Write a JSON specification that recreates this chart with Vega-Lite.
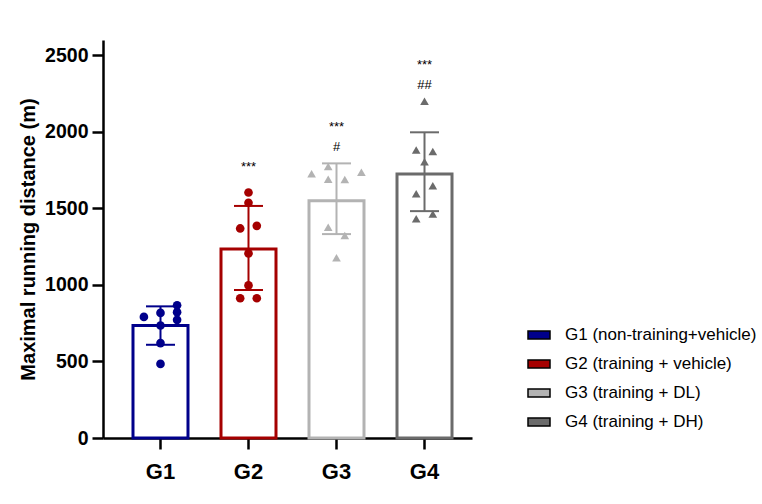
{
  "$schema": "https://vega.github.io/schema/vega-lite/v6.json",
  "autosize": {"type": "none"},
  "width": 369,
  "height": 398,
  "padding": {"left": 103, "top": 40, "right": 290, "bottom": 66},
  "background": "white",
  "config": {
    "view": {"stroke": null},
    "font": "Liberation Sans",
    "axis": {
      "grid": false,
      "domainColor": "black",
      "domainWidth": 2.5,
      "tickColor": "black",
      "tickWidth": 2.5,
      "tickSize": 11,
      "labelFont": "Liberation Sans",
      "labelFontWeight": "bold",
      "labelColor": "black",
      "titleFont": "Liberation Sans",
      "titleFontWeight": "bold",
      "titleFontSize": 20,
      "titleColor": "black"
    },
    "legend": {
      "labelFont": "Liberation Sans",
      "labelFontSize": 17,
      "labelColor": "black",
      "labelLimit": 400
    }
  },
  "datasets": {
    "summary": [
      {"group": "G1", "mean": 735, "lower": 609, "upper": 860},
      {"group": "G2", "mean": 1235, "lower": 967, "upper": 1516},
      {"group": "G3", "mean": 1550, "lower": 1332, "upper": 1794},
      {"group": "G4", "mean": 1725, "lower": 1482, "upper": 1997}
    ],
    "runs": [
      {"group": "G1", "treatment": "G1 (non-training+vehicle)", "lane": -2, "distance": 791},
      {"group": "G1", "treatment": "G1 (non-training+vehicle)", "lane": 0, "distance": 817},
      {"group": "G1", "treatment": "G1 (non-training+vehicle)", "lane": 0, "distance": 735},
      {"group": "G1", "treatment": "G1 (non-training+vehicle)", "lane": 0, "distance": 620},
      {"group": "G1", "treatment": "G1 (non-training+vehicle)", "lane": 0, "distance": 484},
      {"group": "G1", "treatment": "G1 (non-training+vehicle)", "lane": 2, "distance": 867},
      {"group": "G1", "treatment": "G1 (non-training+vehicle)", "lane": 2, "distance": 822},
      {"group": "G1", "treatment": "G1 (non-training+vehicle)", "lane": 2, "distance": 772},
      {"group": "G2", "treatment": "G2 (training + vehicle)", "lane": 0, "distance": 1604},
      {"group": "G2", "treatment": "G2 (training + vehicle)", "lane": 0, "distance": 1537},
      {"group": "G2", "treatment": "G2 (training + vehicle)", "lane": -1, "distance": 1369},
      {"group": "G2", "treatment": "G2 (training + vehicle)", "lane": 1, "distance": 1386},
      {"group": "G2", "treatment": "G2 (training + vehicle)", "lane": 0, "distance": 1206},
      {"group": "G2", "treatment": "G2 (training + vehicle)", "lane": 0, "distance": 997},
      {"group": "G2", "treatment": "G2 (training + vehicle)", "lane": -1, "distance": 913},
      {"group": "G2", "treatment": "G2 (training + vehicle)", "lane": 1, "distance": 913},
      {"group": "G3", "treatment": "G3 (training + DL)", "lane": -3, "distance": 1726},
      {"group": "G3", "treatment": "G3 (training + DL)", "lane": -1, "distance": 1773},
      {"group": "G3", "treatment": "G3 (training + DL)", "lane": 3, "distance": 1736},
      {"group": "G3", "treatment": "G3 (training + DL)", "lane": -1, "distance": 1690},
      {"group": "G3", "treatment": "G3 (training + DL)", "lane": 1, "distance": 1688},
      {"group": "G3", "treatment": "G3 (training + DL)", "lane": -1, "distance": 1376},
      {"group": "G3", "treatment": "G3 (training + DL)", "lane": 1, "distance": 1323},
      {"group": "G3", "treatment": "G3 (training + DL)", "lane": 0, "distance": 1177},
      {"group": "G4", "treatment": "G4 (training + DH)", "lane": 0, "distance": 2200},
      {"group": "G4", "treatment": "G4 (training + DH)", "lane": -1, "distance": 1882},
      {"group": "G4", "treatment": "G4 (training + DH)", "lane": 1, "distance": 1872},
      {"group": "G4", "treatment": "G4 (training + DH)", "lane": 0, "distance": 1805},
      {"group": "G4", "treatment": "G4 (training + DH)", "lane": 1, "distance": 1648},
      {"group": "G4", "treatment": "G4 (training + DH)", "lane": -1, "distance": 1595},
      {"group": "G4", "treatment": "G4 (training + DH)", "lane": 1, "distance": 1464},
      {"group": "G4", "treatment": "G4 (training + DH)", "lane": -1, "distance": 1432}
    ],
    "marks": [
      {"group": "G2", "level": 1771, "sig": "***"},
      {"group": "G3", "level": 2029, "sig": "***"},
      {"group": "G3", "level": 1903, "sig": "#"},
      {"group": "G4", "level": 2437, "sig": "***"},
      {"group": "G4", "level": 2305, "sig": "##"}
    ]
  },
  "encoding": {
    "x": {
      "field": "group",
      "type": "nominal",
      "scale": {"domain": ["G1", "G2", "G3", "G4"], "paddingInner": 0.375, "paddingOuter": 0.284, "align": 0.6},
      "axis": {"title": null, "labelAngle": 0, "labelPadding": 12, "labelFontSize": 22}
    }
  },
  "layer": [
    {
      "data": {"name": "summary"},
      "mark": {"type": "bar", "fill": "white", "strokeWidth": 3, "size": 55},
      "encoding": {
        "y": {
          "field": "mean",
          "type": "quantitative",
          "scale": {"domain": [0, 2500]},
          "axis": {"title": "Maximal running distance (m)", "values": [0, 500, 1000, 1500, 2000, 2500], "format": "d", "labelFontSize": 19.5, "titlePadding": 6, "labelPadding": 4}
        },
        "stroke": {
          "field": "group",
          "type": "nominal",
          "scale": {"domain": ["G1", "G2", "G3", "G4"], "range": ["#00008b", "#a50000", "#b3b3b3", "#6b6b6b"]},
          "legend": null
        }
      }
    },
    {
      "data": {"name": "summary"},
      "mark": {"type": "rule", "strokeWidth": 2},
      "encoding": {
        "y": {"field": "lower", "type": "quantitative"},
        "y2": {"field": "upper"},
        "stroke": {"field": "group", "type": "nominal", "legend": null}
      }
    },
    {
      "data": {"name": "summary"},
      "mark": {"type": "tick", "thickness": 2, "size": 29, "opacity": 1},
      "encoding": {
        "y": {"field": "upper", "type": "quantitative"},
        "color": {"field": "group", "type": "nominal", "scale": {"domain": ["G1", "G2", "G3", "G4"], "range": ["#00008b", "#a50000", "#b3b3b3", "#6b6b6b"]}, "legend": null}
      }
    },
    {
      "data": {"name": "summary"},
      "mark": {"type": "tick", "thickness": 2, "size": 29, "opacity": 1},
      "encoding": {
        "y": {"field": "lower", "type": "quantitative"},
        "color": {"field": "group", "type": "nominal", "legend": null}
      }
    },
    {
      "data": {"name": "runs"},
      "mark": {"type": "point", "filled": true, "size": 75, "opacity": 1, "strokeWidth": 0},
      "encoding": {
        "y": {"field": "distance", "type": "quantitative"},
        "xOffset": {"field": "lane", "type": "quantitative", "scale": {"domain": [-4, 4], "range": [-5.7, 60.7]}},
        "fill": {
          "field": "treatment",
          "type": "nominal",
          "scale": {
            "domain": ["G1 (non-training+vehicle)", "G2 (training + vehicle)", "G3 (training + DL)", "G4 (training + DH)"],
            "range": ["#00008b", "#a50000", "#b3b3b3", "#6b6b6b"]
          },
          "legend": {
            "title": null,
            "orient": "none",
            "legendX": 424,
            "legendY": 283,
            "symbolType": "M-1,-0.36H1V0.36H-1Z",
            "symbolSize": 484,
            "symbolStrokeColor": "black",
            "symbolStrokeWidth": 1.5,
            "symbolOpacity": 1,
            "rowPadding": 9,
            "labelOffset": 14
          }
        },
        "shape": {
          "field": "group",
          "type": "nominal",
          "scale": {"domain": ["G1", "G2", "G3", "G4"], "range": ["circle", "circle", "triangle-up", "triangle-up"]},
          "legend": null
        }
      }
    },
    {
      "data": {"name": "marks"},
      "mark": {"type": "text", "font": "Liberation Sans", "fontSize": 13, "color": "black", "baseline": "middle"},
      "encoding": {
        "y": {"field": "level", "type": "quantitative"},
        "text": {"field": "sig"}
      }
    }
  ]
}
